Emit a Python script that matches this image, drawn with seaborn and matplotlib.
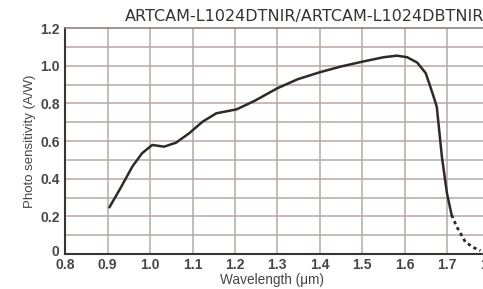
import matplotlib
matplotlib.use("Agg")
import matplotlib.pyplot as plt
import matplotlib.transforms as mtrans
import seaborn as sns
import pandas as pd

# Values
wavelength = [0.904, 0.930, 0.958, 0.981, 1.005, 1.033, 1.061, 1.092, 1.124, 1.156,
              1.204, 1.247, 1.300, 1.348, 1.400, 1.449, 1.500, 1.551, 1.582, 1.606,
              1.630, 1.650, 1.666, 1.676, 1.688, 1.700, 1.711]
sensitivity = [0.248, 0.349, 0.464, 0.535, 0.579, 0.570, 0.591, 0.641, 0.703, 0.747,
               0.768, 0.814, 0.880, 0.928, 0.965, 0.995, 1.021, 1.045, 1.053, 1.045,
               1.016, 0.960, 0.853, 0.782, 0.517, 0.322, 0.207]
tail_wavelength = [1.711, 1.723, 1.743, 1.762, 1.779]
tail_sensitivity = [0.207, 0.145, 0.065, 0.035, 0.018]

x_ticks = [0.8, 0.9, 1.0, 1.1, 1.2, 1.3, 1.4, 1.5, 1.6, 1.7, 1.8]
y_ticks = [0, 0.2, 0.4, 0.6, 0.8, 1.0, 1.2]
y_tick_labels = ["0", "0.2", "0.4", "0.6", "0.8", "1.0", "1.2"]

df = pd.DataFrame({"Wavelength": wavelength, "Sensitivity": sensitivity})
df_tail = pd.DataFrame({"Wavelength": tail_wavelength, "Sensitivity": tail_sensitivity})

sns.set_style("white")
plt.rcParams["font.family"] = ["Liberation Sans", "DejaVu Sans"]

fig = plt.figure(figsize=(4.83, 2.89), dpi=100)
ax = fig.add_axes([0.1352, 0.1211, 0.878, 0.782])

# light grid every 0.1 on both axes
grid_color = "#b5a9a5"
for x in [0.9, 1.0, 1.1, 1.2, 1.3, 1.4, 1.5, 1.6, 1.7]:
    ax.axvline(x, color=grid_color, lw=1.1, zorder=0)
for y in [0.1, 0.2, 0.3, 0.4, 0.5, 0.6, 0.7, 0.8, 0.9, 1.0, 1.1]:
    ax.axhline(y, color=grid_color, lw=1.1, zorder=0)

sns.lineplot(data=df, x="Wavelength", y="Sensitivity", ax=ax, color="#2e2a2a",
             lw=1.8, sort=False, estimator=None)
sns.lineplot(data=df_tail, x="Wavelength", y="Sensitivity", ax=ax, color="#2e2a2a",
             lw=2.0, sort=False, estimator=None, linestyle=(0, (1.2, 1.2)))

ax.set_xlim(0.8, 1.8)
ax.set_ylim(0, 1.2)
ax.set_xticks(x_ticks)
ax.set_xticklabels([f"{t:.1f}" for t in x_ticks])
ax.set_yticks(y_ticks)
ax.set_yticklabels(y_tick_labels)
ax.tick_params(length=0, labelsize=10, labelcolor="#4a4545")
ax.tick_params(axis="x", pad=3)
ax.tick_params(axis="y", pad=4)
for lab in ax.get_xticklabels() + ax.get_yticklabels():
    lab.set_fontweight("bold")

# lift the "0" label a little so it clears the "0.8" below it
zero_lab = ax.get_yticklabels()[0]
zero_lab.set_transform(zero_lab.get_transform()
                       + mtrans.ScaledTranslation(0, 4 / 100, fig.dpi_scale_trans))

for side in ["left", "bottom"]:
    ax.spines[side].set_color("#3a3535")
    ax.spines[side].set_linewidth(1.5)
ax.spines["top"].set_color("#8f8480")
ax.spines["top"].set_linewidth(1.2)
ax.spines["right"].set_color("#8f8480")

ax.set_xlabel("Wavelength (μm)", fontsize=9.8, color="#4a4545", va="bottom")
ax.xaxis.set_label_coords(0.4875, -0.148)
ax.set_ylabel("Photo sensitivity (A/W)", fontsize=9.5, color="#4a4545", labelpad=3)

fig.text(125 / 483, 1 - 20.7 / 289, "ARTCAM-L1024DTNIR/ARTCAM-L1024DBTNIR",
         fontsize=11.5, color="#333333", ha="left", va="baseline", family="DejaVu Sans")

fig.savefig("out.png", dpi=100)
